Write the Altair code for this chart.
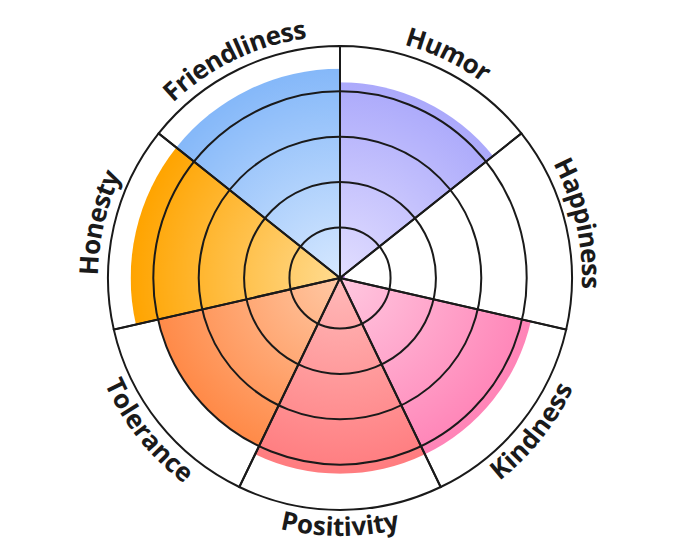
import math
import altair as alt
import pandas as pd

# ---- data ----
categories = ["Humor", "Happiness", "Kindness", "Positivity", "Tolerance", "Honesty", "Friendliness"]
values = [4.2, 0.0, 4.2, 4.2, 4.0, 4.5, 4.5]
light_colors = ["#e2deff", "#e6c0ff", "#ffc8e0", "#ffb9b9", "#ffc8a4", "#ffdb90", "#d6e8ff"]
dark_colors = ["#aba9fb", "#c07cf2", "#ff84b7", "#ff7c7f", "#ff8a48", "#ffa400", "#85b8f9"]
rings = [1, 2, 3, 4]

V_MAX = 5
R_MIN, R_MAX = 5.2, 232
LABEL_R = 250
FONT_SIZE = 26
n = len(categories)

# approximate advance widths (em) of Open Sans Bold, used to bend labels along the circle
CHAR_W = {"H": 0.796, "u": 0.654, "m": 0.982, "o": 0.614, "r": 0.445, "a": 0.585,
          "p": 0.630, "i": 0.296, "n": 0.654, "e": 0.589, "s": 0.496, "K": 0.654,
          "d": 0.630, "P": 0.613, "t": 0.403, "v": 0.563, "y": 0.563, "T": 0.563,
          "l": 0.296, "c": 0.489, "F": 0.563}

df = pd.DataFrame({"category": categories, "value": values,
                   "idx": list(range(n)), "one": [1] * n})
rings_df = pd.DataFrame({"ring": rings})

rows = []
for i, cat in enumerate(categories):
    widths = [CHAR_W.get(ch, 0.6) * FONT_SIZE for ch in cat]
    total = sum(widths)
    acc = 0.0
    for ch, w in zip(cat, widths):
        rows.append({"category": cat, "idx": i, "char": ch, "off": acc + w / 2 - total / 2})
        acc += w
chars_df = pd.DataFrame(rows)

theta_scale = alt.Scale(domain=[0, n])
radius_scale = alt.Scale(type="linear", domain=[0, V_MAX], range=[R_MIN, R_MAX], zero=False)

base = alt.Chart(df).transform_stack(
    stack="one", groupby=[], as_=["t0", "t1"],
    sort=[alt.SortField("idx", order="ascending")]
)


def wedge_gradient(i, v, c_light, c_dark):
    # radial gradient centred on the chart centre (Vega uses a square pattern, slice)
    r = R_MIN + (R_MAX - R_MIN) * v / V_MAX
    a0 = 2 * math.pi * i / n
    a1 = 2 * math.pi * (i + 1) / n
    angles = [a0, a1] + [k * math.pi / 2 for k in range(5) if a0 < k * math.pi / 2 < a1]
    xs = [0.0] + [r * math.sin(a) for a in angles]
    ys = [0.0] + [-r * math.cos(a) for a in angles]
    w = max(xs) - min(xs)
    h = max(ys) - min(ys)
    s = max(w, h)
    cx = (-min(xs) - (w - s) / 2) / s
    cy = (-min(ys) - (h - s) / 2) / s
    return alt.RadialGradient(
        gradient="radial",
        stops=[alt.GradientStop(color=c_light, offset=0),
               alt.GradientStop(color=c_dark, offset=1)],
        x1=cx, y1=cy, r1=0, x2=cx, y2=cy, r2=r / s,
    )


layers = []
for i, cat in enumerate(categories):
    grad = wedge_gradient(i, values[i], light_colors[i], dark_colors[i])
    layers.append(
        base.transform_filter(alt.datum.category == cat)
        .mark_arc(fill=grad, strokeWidth=0)
        .encode(
            theta=alt.Theta("t0:Q", scale=theta_scale, stack=False),
            theta2="t1:Q",
            radius=alt.Radius("value:Q", scale=radius_scale, stack=False),
            radius2=alt.value(0),
        )
    )

LINE = "#1a1a1a"

ring_layer = alt.Chart(rings_df).mark_arc(fillOpacity=0, stroke=LINE, strokeWidth=2).encode(
    theta=alt.value(0),
    theta2=alt.value(2 * math.pi + 0.01),
    radius=alt.Radius("ring:Q", scale=radius_scale, stack=False),
    radius2=alt.value(0),
)

outline_layer = base.transform_calculate(full=str(V_MAX)).mark_arc(
    fillOpacity=0, stroke=LINE, strokeWidth=2
).encode(
    theta=alt.Theta("t0:Q", scale=theta_scale, stack=False),
    theta2="t1:Q",
    radius=alt.Radius("full:Q", scale=radius_scale, stack=False),
    radius2=alt.value(0),
)

label_layer = (
    alt.Chart(chars_df)
    .transform_calculate(deg0="(datum.idx + 0.5) * 360 / %d" % n)
    .transform_calculate(flip="datum.deg0 > 90 && datum.deg0 < 270 ? -1 : 1")
    .transform_calculate(pos="datum.deg0 + datum.flip * datum.off / %f * 180 / PI" % LABEL_R)
    .transform_calculate(t="datum.pos * %d / 360" % n)
    .transform_calculate(ang="datum.flip < 0 ? (datum.pos + 180) % 360 : (datum.pos + 360) % 360")
    .mark_text(font="Open Sans", fontWeight="bold", fontSize=FONT_SIZE, color="#1a1a1a",
               align="center", baseline="middle", radius=LABEL_R)
    .encode(
        theta=alt.Theta("t:Q", scale=theta_scale, stack=False),
        text="char:N",
        angle=alt.Angle("ang:Q", scale=None),
        detail="category:N",
    )
)

chart = alt.layer(*layers, ring_layer, outline_layer, label_layer).properties(
    width=664, height=540, padding=0
).configure_view(strokeWidth=0)

chart.save("out.html", embed_options={"renderer": "svg", "actions": False})
